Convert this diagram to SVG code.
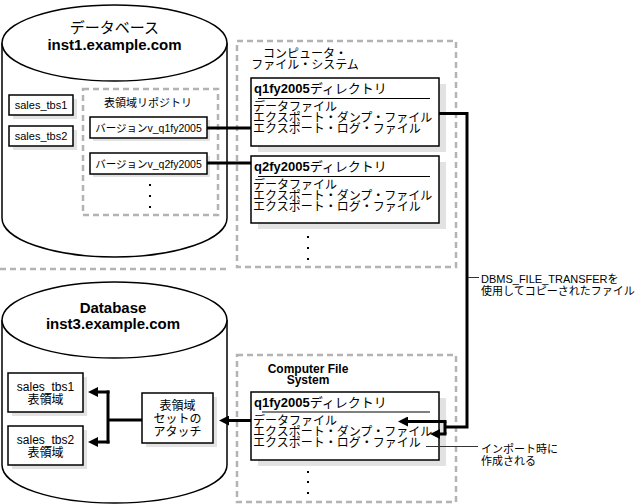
<svg xmlns="http://www.w3.org/2000/svg" width="641" height="504" viewBox="0 0 641 504">
<style>
.t{font-family:"Liberation Sans","Noto Sans CJK JP",sans-serif;fill:#000}
.b{font-weight:bold}
.m{text-anchor:middle}
.box{fill:#fff;stroke:#000;stroke-width:1.5}
.sh{fill:#e2e2e2}
.cyl{fill:#fff;stroke:#000;stroke-width:1.5}
.dash{fill:none;stroke:#b3b3b3;stroke-width:2.5;stroke-dasharray:6 4}
.conn{fill:none;stroke:#000;stroke-width:3}
.lead{fill:none;stroke:#333;stroke-width:1}
.dot{fill:#000}
</style>
<defs>
<marker id="ah" markerUnits="userSpaceOnUse" markerWidth="10" markerHeight="10" viewBox="0 0 10 10" refX="4" refY="5" orient="auto">
<path d="M0,0 L10,5 L0,10 Z" fill="#000"/>
</marker>
</defs>
<rect width="641" height="504" fill="#fff"/>

<g id="db1">
<path class="cyl" d="M2 43 V218 A112.5 39 0 0 0 227 218 V43"/>
<ellipse class="cyl" cx="114.5" cy="43" rx="112.5" ry="38"/>
<text class="t m" x="114.5" y="33" font-size="15">データベース</text>
<text class="t b m" x="114.5" y="50" font-size="15">inst1.example.com</text>
</g>

<g id="sales_tbs1_top">
<rect class="sh" x="13" y="99" width="64" height="20"/>
<rect class="box" x="9" y="95" width="64" height="20"/>
<text class="t m" x="41" y="109" font-size="11">sales_tbs1</text>
</g>
<g id="sales_tbs2_top">
<rect class="sh" x="13" y="130" width="64" height="20"/>
<rect class="box" x="9" y="126" width="64" height="20"/>
<text class="t m" x="41" y="140" font-size="11">sales_tbs2</text>
</g>

<g id="repository">
<rect class="dash" x="83" y="89" width="135" height="126"/>
<text class="t m" x="148" y="107" font-size="11">表領域リポジトリ</text>
<rect class="dot" x="149" y="184" width="2" height="2"/>
<rect class="dot" x="149" y="195" width="2" height="2"/>
<rect class="dot" x="149" y="206" width="2" height="2"/>
</g>
<g id="v_q1">
<rect class="sh" x="93" y="120" width="117" height="21"/>
<rect class="box" x="90" y="117" width="117" height="21"/>
<text class="t m" x="148.5" y="132" font-size="10.5">バージョンv_q1fy2005</text>
</g>
<g id="v_q2">
<rect class="sh" x="93" y="156" width="117" height="21"/>
<rect class="box" x="90" y="153" width="117" height="21"/>
<text class="t m" x="148.5" y="168" font-size="10.5">バージョンv_q2fy2005</text>
</g>

<line class="dash" x1="0" y1="269" x2="226" y2="269"/>

<g id="fs_top">
<rect class="dash" x="237" y="41" width="219" height="226"/>
<text class="t m" x="305" y="57.5" font-size="12">コンピュータ・</text>
<text class="t m" x="305" y="68.5" font-size="12">ファイル・システム</text>
<rect class="dot" x="307" y="236" width="2" height="2"/>
<rect class="dot" x="307" y="247" width="2" height="2"/>
<rect class="dot" x="307" y="258" width="2" height="2"/>
</g>
<g id="q1dir_top">
<rect class="sh" x="258" y="84" width="188" height="68"/>
<rect class="box" x="251" y="78" width="188" height="68"/>
<text class="t" x="254" y="93" font-size="13"><tspan class="b">q1fy2005</tspan>ディレクトリ</text>
<line x1="258" y1="98.5" x2="430" y2="98.5" stroke="#000" stroke-width="1.2"/>
<text class="t" x="253" y="111" font-size="12">データファイル</text>
<text class="t" x="253" y="122" font-size="12">エクスポート・ダンプ・ファイル</text>
<text class="t" x="253" y="133" font-size="12">エクスポート・ログ・ファイル</text>
</g>
<g id="q2dir_top">
<rect class="sh" x="258" y="162" width="188" height="67"/>
<rect class="box" x="251" y="156" width="188" height="67"/>
<text class="t" x="254" y="171" font-size="13"><tspan class="b">q2fy2005</tspan>ディレクトリ</text>
<line x1="258" y1="176.5" x2="430" y2="176.5" stroke="#000" stroke-width="1.2"/>
<text class="t" x="253" y="189" font-size="12">データファイル</text>
<text class="t" x="253" y="200" font-size="12">エクスポート・ダンプ・ファイル</text>
<text class="t" x="253" y="211" font-size="12">エクスポート・ログ・ファイル</text>
</g>

<g id="db3">
<path class="cyl" d="M2 320 V465 A112.5 38 0 0 0 227 465 V320"/>
<ellipse class="cyl" cx="114.5" cy="320" rx="112.5" ry="38"/>
<text class="t b m" x="113" y="313" font-size="15">Database</text>
<text class="t b m" x="113" y="329" font-size="15">inst3.example.com</text>
</g>
<g id="sales_tbs1_bottom">
<rect class="sh" x="12" y="377" width="75" height="39"/>
<rect class="box" x="8" y="373" width="75" height="39"/>
<text class="t m" x="45.5" y="391" font-size="12">sales_tbs1</text>
<text class="t m" x="45.5" y="404" font-size="12">表領域</text>
</g>
<g id="sales_tbs2_bottom">
<rect class="sh" x="12" y="430" width="75" height="39"/>
<rect class="box" x="8" y="426" width="75" height="39"/>
<text class="t m" x="45.5" y="444" font-size="12">sales_tbs2</text>
<text class="t m" x="45.5" y="457" font-size="12">表領域</text>
</g>
<g id="attach">
<rect class="sh" x="146" y="397" width="71" height="50"/>
<rect class="box" x="142" y="393" width="71" height="50"/>
<text class="t m" x="177.5" y="410" font-size="12">表領域</text>
<text class="t m" x="177.5" y="423" font-size="12">セットの</text>
<text class="t m" x="177.5" y="436" font-size="12">アタッチ</text>
</g>

<g id="fs_bottom">
<rect class="dash" x="237" y="355" width="219" height="147"/>
<text class="t b m" x="308" y="373" font-size="12">Computer File</text>
<text class="t b m" x="308" y="384" font-size="12">System</text>
<rect class="dot" x="307" y="471" width="2" height="2"/>
<rect class="dot" x="307" y="481" width="2" height="2"/>
<rect class="dot" x="307" y="492" width="2" height="2"/>
</g>
<g id="q1dir_bottom">
<rect class="sh" x="258" y="398" width="188" height="68"/>
<rect class="box" x="251" y="392" width="188" height="68"/>
<text class="t" x="254" y="407" font-size="13"><tspan class="b">q1fy2005</tspan>ディレクトリ</text>
<line x1="262" y1="412" x2="430" y2="412" stroke="#000" stroke-width="1.2"/>
<text class="t" x="253" y="425" font-size="12">データファイル</text>
<text class="t" x="253" y="436" font-size="12">エクスポート・ダンプ・ファイル</text>
<text class="t" x="253" y="447" font-size="12">エクスポート・ログ・ファイル</text>
</g>

<g id="connectors">
<path class="conn" d="M207 128 H251"/>
<path class="conn" d="M207 163 H251"/>
<path class="conn" d="M439 113.5 H467 V427 H445"/>
<path class="conn" d="M445 421.5 V434"/>
<path class="conn" d="M446.5 421.5 H404" marker-end="url(#ah)"/>
<path class="conn" d="M446.5 434 H436" marker-end="url(#ah)"/>
<path class="conn" d="M251 420.5 H225" marker-end="url(#ah)"/>
<path class="conn" d="M142 420 H108"/>
<path class="conn" d="M108 390.5 V443.5"/>
<path class="conn" d="M109.5 392 H94" marker-end="url(#ah)"/>
<path class="conn" d="M109.5 442 H94" marker-end="url(#ah)"/>
<path class="lead" d="M468 277.5 H479"/>
<path class="lead" d="M426 446.5 H478"/>
</g>

<g id="labels">
<text class="t" x="481" y="283" font-size="11">DBMS_FILE_TRANSFERを</text>
<text class="t" x="481" y="295" font-size="11">使用してコピーされたファイル</text>
<text class="t" x="481" y="453" font-size="11">インポート時に</text>
<text class="t" x="481" y="465" font-size="11">作成される</text>
</g>
</svg>
